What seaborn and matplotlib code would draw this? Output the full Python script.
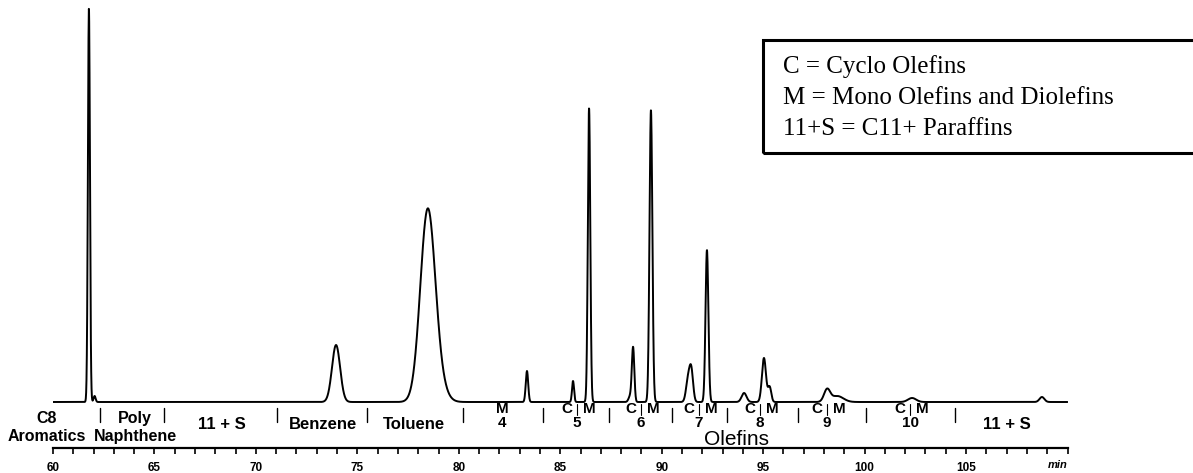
import numpy as np
import pandas as pd
import matplotlib
matplotlib.use("Agg")
import matplotlib.pyplot as plt
from matplotlib.patches import Rectangle
import seaborn as sns

# ---- data (retention time in min, response, peak sigma in min)
peak_times = [61.77, 62.05, 73.95, 78.45, 78.85, 83.36, 85.63, 86.42, 88.45, 88.59,
              89.47, 91.30, 91.46, 92.23, 94.06, 95.04, 95.32, 98.15, 98.65, 102.34, 108.74]
peak_heights = [394, 6, 57, 178, 25, 31, 21, 294, 6, 54,
                292, 22, 30, 152, 9, 44, 15, 12, 6, 4, 5]
peak_sigmas = [0.05, 0.05, 0.20, 0.36, 0.40, 0.06, 0.05, 0.06, 0.08, 0.06,
               0.07, 0.10, 0.09, 0.07, 0.12, 0.10, 0.08, 0.15, 0.30, 0.20, 0.12]

separator_times = [62.32, 65.47, 71.04, 75.48, 80.21, 84.15, 87.40, 90.51, 93.22,
                   96.72, 100.07, 104.45]

group_labels = ["C8\nAromatics", "Poly\nNaphthene", "11 + S", "Benzene", "Toluene", "11 + S"]
group_times = [59.70, 64.04, 68.33, 73.31, 77.79, 107.02]

olefin_numbers = ["4", "5", "6", "7", "8", "9", "10"]
olefin_times = [82.13, 85.83, 88.98, 91.84, 94.85, 98.15, 102.24]

legend_lines = ["C = Cyclo Olefins", "M = Mono Olefins and Diolefins", "11+S = C11+ Paraffins"]

# ---- build trace
t = np.linspace(60, 110, 6001)
resp = np.zeros_like(t)
for c, h, s in zip(peak_times, peak_heights, peak_sigmas):
    resp += h * np.exp(-0.5 * ((t - c) / s) ** 2)
df = pd.DataFrame({"time": t, "response": resp})

sns.set_theme(style="white")
plt.rcParams["font.family"] = ["Liberation Sans", "DejaVu Sans"]
plt.rcParams["text.color"] = "black"
plt.rcParams["xtick.color"] = "black"
plt.rcParams["xtick.labelcolor"] = "black"

W, H = 1193, 473
fig = plt.figure(figsize=(W / 100, H / 100), dpi=100)
ax = fig.add_axes([53 / W, (H - 448) / H, 1014.5 / W, 448 / H])

sns.lineplot(data=df, x="time", y="response", ax=ax, color="black", linewidth=1.4)

ax.set_xlim(60, 110)
ax.set_ylim(-46, 402)
ax.set_xlabel("")
ax.set_ylabel("")
ax.set_yticks([])
for s in ["top", "left", "right"]:
    ax.spines[s].set_visible(False)
ax.spines["bottom"].set_color("black")
ax.spines["bottom"].set_linewidth(1.6)
ax.set_xticks(np.arange(60, 110, 5))
ax.set_xticks(np.arange(60, 111, 1), minor=True)
ax.tick_params(axis="x", which="both", direction="out", length=4, width=1.2,
               colors="black", labelcolor="black", bottom=True, pad=6)
ax.tick_params(axis="x", which="major", labelsize=8.5)
for lab in ax.get_xticklabels():
    lab.set_fontweight("bold")
ax.text(110, -63, "min", ha="right", va="center", fontsize=8, style="italic",
        fontweight="bold", color="black")


def py(pix):
    return 402 - pix


TXT = dict(ha="center", va="center", fontweight="bold", color="black")

# separators
for st in separator_times:
    ax.plot([st, st], [py(408), py(422)], color="black", lw=1.0)

# group labels
for lab, gt in zip(group_labels, group_times):
    if "\n" in lab:
        a, b = lab.split("\n")
        ax.text(gt, py(418), a, fontsize=11.5, **TXT)
        ax.text(gt, py(436), b, fontsize=11.5, **TXT)
    else:
        ax.text(gt, py(424), lab, fontsize=12, **TXT)

# olefin labels
for num, ot in zip(olefin_numbers, olefin_times):
    if num == "4":
        ax.text(ot, py(409), "M", fontsize=11, **TXT)
    else:
        ax.text(ot - 0.49, py(409), "C", fontsize=11, **TXT)
        ax.text(ot + 0.59, py(409), "M", fontsize=11, **TXT)
        ax.plot([ot, ot], [py(404), py(415)], color="black", lw=0.8)
    ax.text(ot, py(423), num, fontsize=11, **TXT)

ax.text(93.71, py(439), "Olefins", ha="center", va="center", fontsize=15, color="black")

# legend box
fig.patches.append(Rectangle((763 / W, 1 - 153 / H), (W - 763) / W + 0.01, 113 / H,
                             transform=fig.transFigure, fill=False, edgecolor="black",
                             linewidth=2.2))
for i, line in enumerate(legend_lines):
    fig.text(783 / W, 1 - (67 + 31 * i) / H, line, ha="left", va="center",
             fontsize=18, family=["Liberation Serif", "DejaVu Serif"], color="black")

fig.savefig("out.png", dpi=100, facecolor="white")
